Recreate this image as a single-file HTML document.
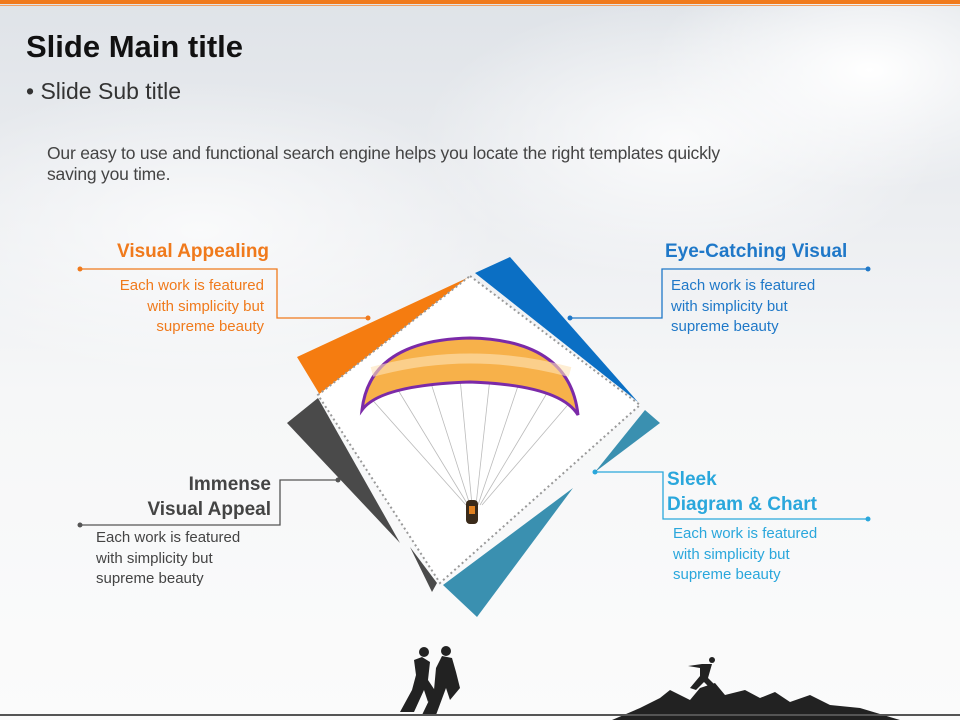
<!DOCTYPE html>
<html><head><meta charset="utf-8"><style>
body{margin:0}
#s{position:relative;width:960px;height:720px;overflow:hidden;font-family:"Liberation Sans",sans-serif;
background:
radial-gradient(ellipse 220px 120px at 870px 70px,#fff 0%,rgba(255,255,255,0) 100%),
radial-gradient(ellipse 260px 140px at 680px 140px,rgba(255,255,255,.8) 0%,rgba(255,255,255,0) 100%),
radial-gradient(ellipse 300px 150px at 200px 230px,rgba(255,255,255,.7) 0%,rgba(255,255,255,0) 100%),
linear-gradient(#dfe3e8 0%,#eceef1 30%,#f6f7f8 55%,#fbfbfb 100%);}
.t{position:absolute;white-space:nowrap}
</style></head><body><div id="s">
<div style="position:absolute;left:0;top:0;width:960px;height:4px;background:#f07a1c"></div>
<div style="position:absolute;left:0;top:5px;width:960px;height:1px;background:#f4a060"></div>
<div class="t" style="left:26px;top:29px;font-size:31px;font-weight:bold;color:#111">Slide Main title</div>
<div class="t" style="left:26px;top:78px;font-size:23px;color:#333">• Slide Sub title</div>
<div class="t" style="left:47px;top:143px;font-size:17.5px;color:#444;line-height:21px;letter-spacing:-0.2px">Our easy to use and functional search engine helps you locate the right templates quickly<br>saving you time.</div>

<svg width="960" height="720" style="position:absolute;left:0;top:0">
<g fill="none" stroke-width="1.3">
<polyline points="80,269 277,269 277,318 368,318" stroke="#f07a1c"/>
<polyline points="868,269 662,269 662,318 570,318" stroke="#1f78c8"/>
<polyline points="80,525 280,525 280,480 338,480" stroke="#555"/>
<polyline points="595,472 663,472 663,519 868,519" stroke="#2aa7dc"/>
</g>
<circle cx="80" cy="269" r="2.5" fill="#f07a1c"/><circle cx="368" cy="318" r="2.5" fill="#f07a1c"/>
<circle cx="868" cy="269" r="2.5" fill="#1f78c8"/><circle cx="570" cy="318" r="2.5" fill="#1f78c8"/>
<circle cx="80" cy="525" r="2.5" fill="#555"/><circle cx="338" cy="480" r="2.5" fill="#555"/>
<circle cx="868" cy="519" r="2.5" fill="#2aa7dc"/><circle cx="595" cy="472" r="2.5" fill="#2aa7dc"/>
<polygon points="297,357 467,278 320,395" fill="#f57c10"/>
<polygon points="475,273 510,257 638,402" fill="#0b6fc4"/>
<polygon points="645,410 660,423 595,472" fill="#3a90b0"/>
<polygon points="443,585 573,488 477,617" fill="#3a90b0"/>
<polygon points="287,423 318,398 400,543" fill="#4a4a4a"/>
<polygon points="410,547 437,583 432,592" fill="#4a4a4a"/>
<polygon points="470,276 640,405 440,583 318,395" fill="#fff" stroke="#999" stroke-width="2" stroke-dasharray="2,3"/>
<g stroke="#bbb" stroke-width="0.8" fill="none">
<path d="M368,395 L466,505 M395,385 L468,505 M430,380 L470,505 M460,378 L472,505 M490,378 L476,505 M520,380 L478,505 M550,388 L480,505 M572,400 L482,505"/>
</g>
<path d="M362,410 Q370,340 470,338 Q570,340 578,415 Q560,385 470,382 Q380,385 362,410 Z" fill="#f7b14a" stroke="#7b2aa8" stroke-width="3"/>
<path d="M372,372 Q470,345 570,372" stroke="#fde3b8" stroke-width="10" fill="none" opacity=".6"/>
<rect x="466" y="500" width="12" height="24" rx="4" fill="#3a2a1a"/>
<rect x="469" y="506" width="6" height="8" fill="#e08020"/>
<g fill="#222">
<circle cx="424" cy="652" r="5"/><circle cx="446" cy="651" r="5"/>
<path d="M400,712 L412,690 L416,675 L414,660 L422,657 L430,662 L428,680 L436,692 L428,702 L424,690 L414,712 Z"/>
<path d="M422,715 L434,690 L436,668 L442,656 L452,658 L456,672 L460,688 L450,700 L446,688 L436,715 Z"/>
<circle cx="712" cy="660" r="3"/>
<path d="M688,666 L702,664 L712,664 L708,678 L720,690 L714,692 L704,682 L696,690 L690,688 L700,676 L700,668 Z"/>
<path d="M612,720 L640,708 L660,698 L670,690 L690,700 L700,688 L715,683 L725,695 L745,690 L760,698 L775,692 L790,702 L810,695 L830,705 L860,708 L900,720 Z"/>
</g>
<line x1="0" y1="715" x2="960" y2="715" stroke="#555" stroke-width="2"/>
</svg>

<div class="t" style="left:117px;top:241px;font-size:19px;font-weight:bold;color:#f07a1c">Visual Appealing</div>
<div class="t" style="right:696px;top:276px;font-size:15px;color:#f07a1c;line-height:20.5px;text-align:right">Each work is featured<br>with simplicity but<br>supreme beauty</div>
<div class="t" style="left:665px;top:241px;font-size:19px;font-weight:bold;color:#1f78c8">Eye-Catching Visual</div>
<div class="t" style="left:671px;top:276px;font-size:15px;color:#1f78c8;line-height:20.5px">Each work is featured<br>with simplicity but<br>supreme beauty</div>
<div class="t" style="right:689px;top:472px;font-size:19px;font-weight:bold;color:#444;text-align:right;line-height:25px">Immense<br>Visual Appeal</div>
<div class="t" style="left:96px;top:528px;font-size:15px;color:#444;line-height:20.5px">Each work is featured<br>with simplicity but<br>supreme beauty</div>
<div class="t" style="left:667px;top:467px;font-size:19px;font-weight:bold;color:#2aa7dc;line-height:25px">Sleek<br>Diagram &amp; Chart</div>
<div class="t" style="left:673px;top:524px;font-size:15px;color:#2aa7dc;line-height:20.5px">Each work is featured<br>with simplicity but<br>supreme beauty</div>
</div></body></html>
